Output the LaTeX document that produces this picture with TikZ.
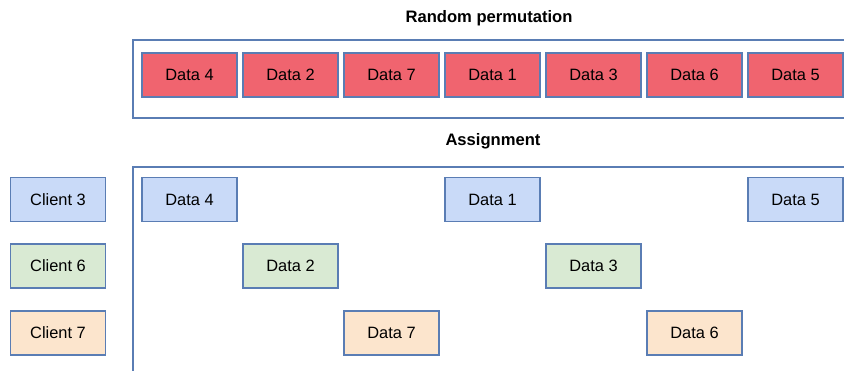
\documentclass[tikz,border=0pt]{standalone}
\usepackage{fontspec}
\setmainfont{Liberation Sans}
\definecolor{bordc}{HTML}{5A7DB4}
\definecolor{redf}{HTML}{F0646F}
\definecolor{bluef}{HTML}{C9DAF8}
\definecolor{greenf}{HTML}{D9EAD3}
\definecolor{orangef}{HTML}{FCE5CD}
\tikzset{
  box/.style={draw=bordc, line width=1.3pt, minimum width=95pt, minimum height=44pt, inner sep=0pt, font=\fontsize{16.4}{19}\selectfont, text=black},
  redbox/.style={box, fill=redf},
  bluebox/.style={box, fill=bluef},
  greenbox/.style={box, fill=greenf},
  orangebox/.style={box, fill=orangef},
  frame/.style={draw=bordc, line width=1.3pt},
  title/.style={font=\fontsize{16.6}{19}\selectfont\bfseries}
}
\begin{document}
\begin{tikzpicture}[x=1pt,y=-1pt]
\useasboundingbox (0,0) rectangle (844,371);
\clip (0,0) rectangle (844,371);
\fill[white] (0,0) rectangle (844,371);
% containers
\draw[frame] (860,40) -- (133,40) -- (133,118) -- (860,118);
\draw[frame] (860,167) -- (133,167) -- (133,380);
% titles
\node[title] (t1) at (489,18) {Random permutation};
\node[title] (t2) at (493,141) {Assignment};
% top row
\node[redbox] (p4) at (189.5,75) {Data 4};
\node[redbox] (p2) at (290.5,75) {Data 2};
\node[redbox] (p7) at (391.5,75) {Data 7};
\node[redbox] (p1) at (492.5,75) {Data 1};
\node[redbox] (p3) at (593.5,75) {Data 3};
\node[redbox] (p6) at (694.5,75) {Data 6};
\node[redbox] (p5) at (795.5,75) {Data 5};
% clients
\node[bluebox] (c3) at (58,199.5) {Client 3};
\node[greenbox] (c6) at (58,266) {Client 6};
\node[orangebox] (c7) at (58,333) {Client 7};
% assignment
\node[bluebox] (a4) at (189.5,199.5) {Data 4};
\node[bluebox] (a1) at (492.5,199.5) {Data 1};
\node[bluebox] (a5) at (795.5,199.5) {Data 5};
\node[greenbox] (a2) at (290.5,266) {Data 2};
\node[greenbox] (a3) at (593.5,266) {Data 3};
\node[orangebox] (a7) at (391.5,333) {Data 7};
\node[orangebox] (a6) at (694.5,333) {Data 6};
\end{tikzpicture}
\end{document}
